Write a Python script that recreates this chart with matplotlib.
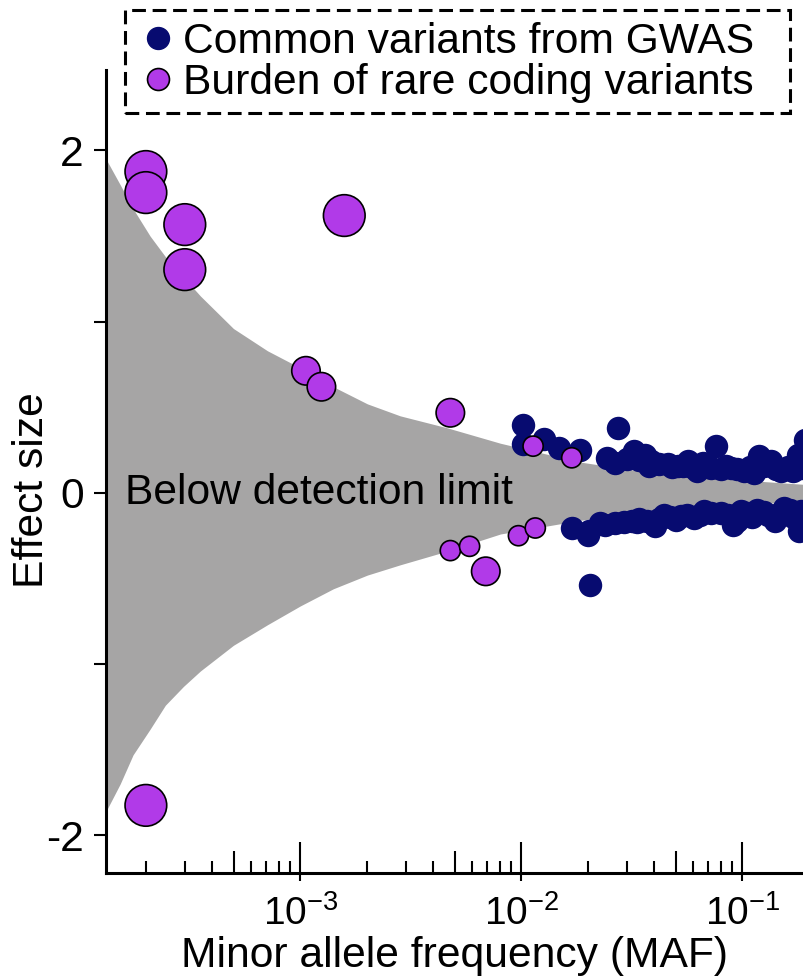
import numpy as np
import matplotlib
matplotlib.use("Agg")
import matplotlib.pyplot as plt
from matplotlib.lines import Line2D
from matplotlib.patches import Rectangle
from matplotlib.ticker import LogLocator, NullFormatter, FixedLocator

plt.rcParams['font.family'] = ['Liberation Sans', 'DejaVu Sans']
plt.rcParams['mathtext.fontset'] = 'custom'
plt.rcParams['mathtext.rm'] = 'Liberation Sans'
plt.rcParams['mathtext.it'] = 'Liberation Sans:italic'
plt.rcParams['axes.unicode_minus'] = False

# detection limit band
band_maf = [1.32e-4, 1.53e-4, 1.75e-4, 2.09e-4, 2.45e-4, 2.96e-4, 3.53e-4,
            4.98e-4, 7.1e-4, 1e-3, 1.41e-3, 2.01e-3, 2.83e-3, 4.62e-3,
            8.04e-3, 1.85e-2, 4.26e-2, 8.8e-2, 0.19]
band_upper = [1.95, 1.80, 1.66, 1.50, 1.38, 1.26, 1.15,
              0.96, 0.83, 0.73, 0.62, 0.52, 0.45, 0.38,
              0.29, 0.18, 0.11, 0.08, 0.05]
band_lower = [-1.86, -1.70, -1.53, -1.38, -1.24, -1.13, -1.04,
              -0.89, -0.77, -0.66, -0.56, -0.48, -0.42, -0.34,
              -0.24, -0.16, -0.10, -0.07, -0.05]

# common variants from GWAS
gwas_maf = [0.0102, 0.0102, 0.0126, 0.0148, 0.0185, 0.0243, 0.0266, 0.0273,
            0.0322, 0.0364, 0.0377, 0.0386, 0.0459, 0.051, 0.0566, 0.062,
            0.066, 0.072, 0.076, 0.089, 0.102, 0.113, 0.119, 0.135, 0.150,
            0.178, 0.184, 0.192,
            0.030, 0.034, 0.042, 0.048, 0.054, 0.059, 0.069, 0.080, 0.084,
            0.095, 0.108, 0.125, 0.142, 0.160, 0.170,
            0.0169, 0.0200, 0.0204, 0.0202, 0.0228, 0.0266, 0.0317, 0.0333,
            0.037, 0.0404, 0.0444, 0.050, 0.0525, 0.0607, 0.0673, 0.080,
            0.0904, 0.0944, 0.0987, 0.117, 0.140, 0.155, 0.181, 0.184,
            0.024, 0.029, 0.034, 0.042, 0.047, 0.056, 0.064, 0.072, 0.086,
            0.105, 0.110, 0.125, 0.130, 0.148, 0.165, 0.170]
gwas_beta = [0.394, 0.283, 0.316, 0.263, 0.253, 0.205, 0.175, 0.38,
             0.244, 0.224, 0.156, 0.185, 0.166, 0.156, 0.185, 0.127,
             0.175, 0.146, 0.273, 0.146, 0.127, 0.117, 0.215, 0.185, 0.127,
             0.224, 0.146, 0.31,
             0.20, 0.19, 0.17, 0.15, 0.16, 0.15, 0.16, 0.14, 0.16,
             0.14, 0.15, 0.16, 0.14, 0.15, 0.13,
             -0.205, -0.244, -0.536, -0.224, -0.175, -0.175, -0.166, -0.17,
             -0.166, -0.195, -0.127, -0.156, -0.137, -0.146, -0.107, -0.117,
             -0.185, -0.166, -0.107, -0.098, -0.166, -0.088, -0.224, -0.107,
             -0.19, -0.17, -0.15, -0.15, -0.14, -0.13, -0.13, -0.12, -0.13,
             -0.12, -0.14, -0.11, -0.13, -0.12, -0.10, -0.14]

# burden of rare coding variants
rare_maf = [2.0e-4, 2.0e-4, 3.0e-4, 3.0e-4, 1.58e-3, 2.0e-4,
            1.06e-3, 1.245e-3, 4.77e-3, 6.9e-3,
            0.0113, 0.0169, 4.77e-3, 5.83e-3, 9.7e-3, 0.01156]
rare_beta = [1.877, 1.754, 1.567, 1.304, 1.62, -1.825,
             0.713, 0.62, 0.468, -0.458,
             0.273, 0.205, -0.337, -0.312, -0.25, -0.205]
rare_class = ['L', 'L', 'L', 'L', 'L', 'L',
              'M', 'M', 'M', 'M',
              'S', 'S', 'S', 'S', 'S', 'S']

yticks = [-2, -1, 0, 1, 2]
ytick_labels = ['-2', '', '0', '', '2']

navy = '#070b70'
purple = '#b13ae8'
grey = '#a6a5a5'
fs = 30.7

fig = plt.figure(figsize=(8.04, 9.8), dpi=100)
ax = fig.add_axes([106 / 804, 107 / 980, 698 / 804, 803 / 980])

ax.fill_between(band_maf, band_lower, band_upper, color=grey, lw=0, zorder=1)
ax.scatter(gwas_maf, gwas_beta, s=285, color=navy, lw=0, zorder=2)
size_map = {'L': 900, 'M': 420, 'S': 210}
ax.scatter(rare_maf, rare_beta, s=[size_map[c] for c in rare_class],
           color=purple, edgecolor='black', lw=1.2, zorder=3)

ax.text(0.027, 0, 'Below detection limit', transform=ax.get_yaxis_transform(),
        fontsize=fs, va='center', ha='left', zorder=4)

ax.set_xscale('log')
ax.set_xlim(1.32e-4, 0.19)
ax.set_ylim(-2.22, 2.47)

for s in ['top', 'right']:
    ax.spines[s].set_visible(False)
for s in ['left', 'bottom']:
    ax.spines[s].set_linewidth(2.2)

ax.set_yticks(yticks)
ax.set_yticklabels(ytick_labels)
ax.tick_params(axis='y', direction='out', length=9, width=1.5, pad=7,
               labelsize=fs)

ax.xaxis.set_major_locator(FixedLocator([1e-3, 1e-2, 1e-1]))
ax.xaxis.set_minor_locator(LogLocator(base=10, subs=[2, 3, 4, 6, 7, 8, 9]))
ax.xaxis.set_minor_formatter(NullFormatter())
ax.tick_params(axis='x', which='major', direction='out', length=6, width=1.5,
               pad=10, labelsize=28)
ax.tick_params(axis='x', which='minor', direction='in', length=8.6, width=1.5)

# longer inward ticks at decades and at 5x
sec = ax.secondary_xaxis('bottom')
sec.spines['bottom'].set_visible(False)
sec.xaxis.set_major_locator(FixedLocator([1e-3, 1e-2, 1e-1]))
sec.xaxis.set_minor_locator(FixedLocator([5e-4, 5e-3, 5e-2]))
sec.xaxis.set_minor_formatter(NullFormatter())
sec.tick_params(which='major', direction='in', length=22, width=1.5,
                labelbottom=False)
sec.tick_params(which='minor', direction='in', length=16, width=1.5)

ax.set_xlabel('Minor allele frequency (MAF)', fontsize=fs, labelpad=2)
ax.set_ylabel('Effect size', fontsize=fs)
ax.yaxis.set_label_coords(-0.077, 0.477)

handles = [
    Line2D([], [], marker='o', ls='none', markersize=15.8,
           markerfacecolor=navy, markeredgecolor=navy),
    Line2D([], [], marker='o', ls='none', markersize=15.8,
           markerfacecolor=purple, markeredgecolor='black', markeredgewidth=1.2),
]
leg = ax.legend(handles, ['Common variants from GWAS',
                          'Burden of rare coding variants'],
                loc='upper left', bbox_to_anchor=(146 / 804, 1 - 22 / 980),
                bbox_transform=fig.transFigure, frameon=False, fontsize=fs,
                borderpad=0, borderaxespad=0, handlelength=0.55,
                handletextpad=0.32, labelspacing=0.02)

fig.add_artist(Rectangle((125 / 804, 1 - 113 / 980), 665 / 804, 103 / 980,
                         transform=fig.transFigure, fill=False,
                         ec='black', lw=2.2, ls=(0, (4.5, 2.2))))

plt.savefig('out.png', dpi=100)
